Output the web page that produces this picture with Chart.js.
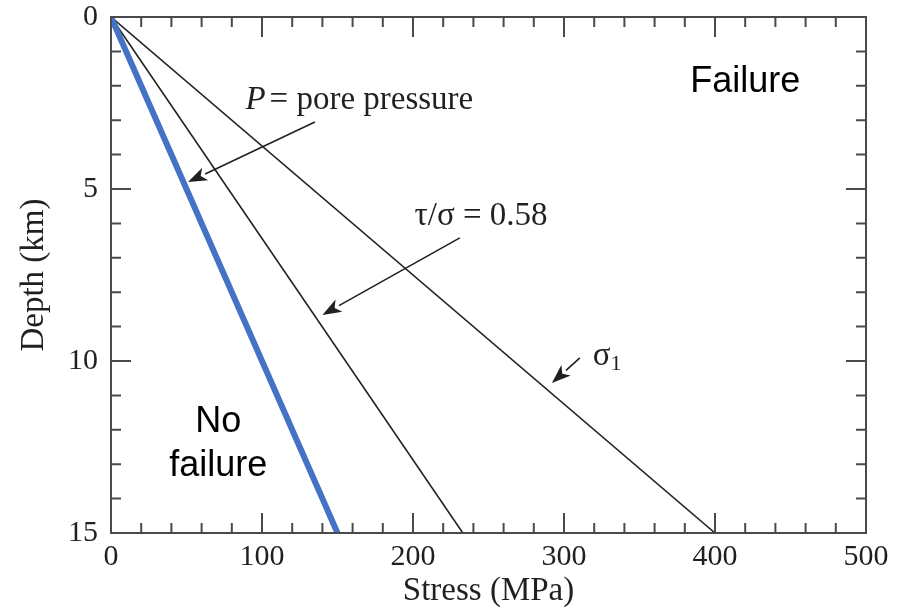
<!DOCTYPE html>
<html>
<head>
<meta charset="utf-8">
<script src="https://cdn.jsdelivr.net/npm/chart.js@4.4.1/dist/chart.umd.min.js"></script>
<style>
  body { margin: 0; background: #fff; }
  #wrap { width: 909px; height: 614px; }
</style>
</head>
<body>
<div id="wrap"><canvas id="depth_chart"></canvas></div>
<script>
// depth (km) at the two ends of each straight line
const depthKm = [0, 15];
// stress (MPa) at those depths
const porePressure = [0, 150];
const frictionLimit = [0, 233];   // tau/sigma = 0.58
const sigma1 = [0, 400];

const xTicks = [0, 100, 200, 300, 400, 500];
const yTicks = [0, 5, 10, 15];

const serif = '"Liberation Serif", "Times New Roman", serif';
const ink = '#231f20';
const axisGrey = '#4a4a4a';

function pts(stress) {
  return stress.map((s, i) => ({ x: s, y: depthKm[i] }));
}

// ticks pointing inward on all four sides, plus the frame
const frameTicks = {
  id: 'frameTicks',
  afterDraw(chart) {
    const { ctx, chartArea: a, scales } = chart;
    const x = scales.x, y = scales.y;
    ctx.save();
    ctx.strokeStyle = axisGrey;
    ctx.lineWidth = 2;
    ctx.strokeRect(a.left, a.top, a.right - a.left, a.bottom - a.top);
    ctx.beginPath();
    for (let v = 0; v <= 500; v += 20) {
      const px = x.getPixelForValue(v);
      const len = v % 100 === 0 ? 20 : 10;
      ctx.moveTo(px, a.bottom); ctx.lineTo(px, a.bottom - len);
      ctx.moveTo(px, a.top); ctx.lineTo(px, a.top + len);
    }
    for (let v = 0; v <= 15; v += 1) {
      const py = y.getPixelForValue(v);
      const len = v % 5 === 0 ? 20 : 10;
      ctx.moveTo(a.left, py); ctx.lineTo(a.left + len, py);
      ctx.moveTo(a.right, py); ctx.lineTo(a.right - len, py);
    }
    ctx.stroke();
    ctx.restore();
  }
};

// labels and arrows, placed in data units
const notes = {
  id: 'notes',
  afterDatasetsDraw(chart) {
    const { ctx, scales } = chart;
    const X = v => scales.x.getPixelForValue(v);
    const Y = v => scales.y.getPixelForValue(v);

    function arrow(x0, y0, x1, y1) {
      const ax = X(x0), ay = Y(y0), bx = X(x1), by = Y(y1);
      const ang = Math.atan2(by - ay, bx - ax);
      const head = 19, half = 7;
      const hx = bx - head * Math.cos(ang), hy = by - head * Math.sin(ang);
      ctx.strokeStyle = ink;
      ctx.fillStyle = ink;
      ctx.lineWidth = 1.6;
      ctx.beginPath();
      ctx.moveTo(ax, ay);
      ctx.lineTo(hx, hy);
      ctx.stroke();
      ctx.beginPath();
      ctx.moveTo(bx, by);
      ctx.lineTo(hx + half * Math.sin(ang), hy - half * Math.cos(ang));
      ctx.lineTo(hx + 5 * Math.cos(ang), hy + 5 * Math.sin(ang));
      ctx.lineTo(hx - half * Math.sin(ang), hy + half * Math.cos(ang));
      ctx.closePath();
      ctx.fill();
    }

    ctx.save();
    ctx.fillStyle = ink;
    ctx.textBaseline = 'middle';
    ctx.textAlign = 'left';

    // P = pore pressure
    let tx = X(89), ty = Y(2.41);
    ctx.font = 'italic 33px ' + serif;
    ctx.fillText('P', tx, ty);
    tx += ctx.measureText('P').width + 4;
    ctx.font = '33px ' + serif;
    ctx.fillText('= pore pressure', tx, ty);
    arrow(135, 3.05, 51, 4.8);

    // tau / sigma
    ctx.fillStyle = ink;
    ctx.font = '33px ' + serif;
    ctx.fillText('τ/σ = 0.58', X(201), Y(5.78));
    arrow(231, 6.42, 140, 8.66);

    // sigma 1
    ctx.fillStyle = ink;
    ctx.fillText('σ', X(319), Y(9.85));
    const sw = ctx.measureText('σ').width;
    ctx.font = '22px ' + serif;
    ctx.fillText('1', X(319) + sw, Y(10.1));
    arrow(310.5, 9.91, 292, 10.64);

    // regions
    ctx.fillStyle = '#000';
    ctx.font = '36px "Liberation Sans", Arial, sans-serif';
    ctx.textAlign = 'center';
    ctx.fillText('Failure', X(420), Y(1.89));
    ctx.fillText('No', X(71), Y(11.77));
    ctx.fillText('failure', X(71), Y(13.05));
    ctx.restore();
  }
};

new Chart(document.getElementById('depth_chart'), {
  type: 'scatter',
  data: {
    datasets: [
      { label: 'Pore pressure', data: pts(porePressure), showLine: true,
        borderColor: '#4472c4', borderWidth: 6, pointRadius: 0 },
      { label: 'tau/sigma = 0.58', data: pts(frictionLimit), showLine: true,
        borderColor: '#222', borderWidth: 1.6, pointRadius: 0 },
      { label: 'sigma1', data: pts(sigma1), showLine: true,
        borderColor: '#222', borderWidth: 1.6, pointRadius: 0 }
    ]
  },
  options: {
    responsive: true,
    maintainAspectRatio: false,
    animation: false,
    layout: { padding: { left: 0, top: 0, right: 43, bottom: 0 } },
    plugins: { legend: { display: false }, tooltip: { enabled: false } },
    scales: {
      x: {
        type: 'linear', min: 0, max: 500,
        afterBuildTicks: s => { s.ticks = xTicks.map(v => ({ value: v })); },
        afterFit: s => { s.height = 81; },
        grid: { display: false, drawTicks: false },
        border: { display: false },
        ticks: { color: ink, padding: 6, font: { family: serif, size: 30 } },
        title: { display: true, text: 'Stress (MPa)', color: ink, padding: { top: 0, bottom: 3 },
                 font: { family: serif, size: 33 } }
      },
      y: {
        type: 'linear', min: 0, max: 15, reverse: true,
        afterBuildTicks: s => { s.ticks = yTicks.map(v => ({ value: v })); },
        afterFit: s => { s.width = 111; s.paddingTop = 17; s.paddingBottom = 0; },
        grid: { display: false, drawTicks: false },
        border: { display: false },
        ticks: { color: ink, padding: 13, font: { family: serif, size: 30 } },
        title: { display: true, text: 'Depth (km)', color: ink, padding: { top: 15, bottom: 0 },
                 font: { family: serif, size: 33 } }
      }
    }
  },
  plugins: [frameTicks, notes]
});
</script>
</body>
</html>
